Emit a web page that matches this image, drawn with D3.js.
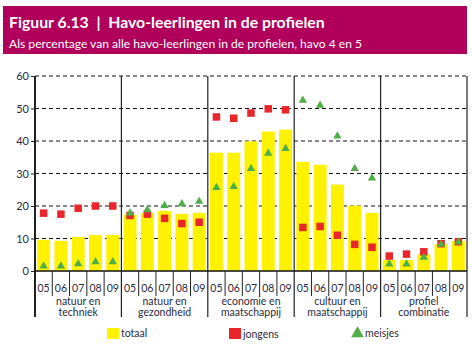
<!DOCTYPE html>
<html>
<head>
<meta charset="utf-8">
<script src="https://cdn.jsdelivr.net/npm/d3@7"></script>
<style>
  body { margin: 0; background: #fff; }
  svg { display: block; font-family: Lato, "Open Sans", sans-serif; }
</style>
</head>
<body>
<script>
// profielen and school years
var profielen = [["natuur en", "techniek"], ["natuur en", "gezondheid"], ["economie en", "maatschappij"], ["cultuur en", "maatschappij"], ["profiel", "combinatie"]];
var jaren = ["05", "06", "07", "08", "09"];
var yTicks = [0, 10, 20, 30, 40, 50, 60];

// percentages per profiel, one value per year
var totaal = [
    [9.6, 9.3, 10.5, 11.1, 11.1],
    [17.3, 17.9, 18.5, 17.6, 17.9],
    [36.4, 36.4, 39.9, 42.9, 43.5],
    [33.6, 32.7, 26.6, 20.1, 17.9],
    [3.4, 3.4, 5.2, 8.3, 9.2]
];
var jongens = [
    [17.8, 17.5, 19.3, 20.0, 20.0],
    [17.1, 17.5, 16.2, 14.6, 15.0],
    [47.4, 47.0, 48.6, 49.9, 49.6],
    [13.4, 13.7, 11.0, 8.2, 7.3],
    [4.6, 5.2, 5.9, 8.4, 9.0]
];
var meisjes = [
    [1.5, 1.5, 2.2, 2.8, 2.8],
    [17.8, 18.8, 20.1, 20.7, 21.4],
    [25.7, 26.0, 31.5, 36.2, 37.7],
    [52.5, 51.0, 41.5, 31.5, 28.6],
    [2.1, 2.1, 4.2, 8.2, 8.9]
];

window.onload = function () {
    var width = 472, height = 347;
    var svg = d3.select("body").append("svg")
        .attr("width", width)
        .attr("height", height);

    // header banner
    svg.append("rect")
        .attr("x", 3).attr("y", 6)
        .attr("width", 464).attr("height", 48)
        .attr("fill", "#b0005b");
    svg.append("text")
        .attr("x", 9).attr("y", 28)
        .attr("fill", "#fff")
        .attr("font-size", 15.8)
        .attr("font-weight", "bold")
        .attr("xml:space", "preserve")
        .text("Figuur 6.13  |  Havo-leerlingen in de profielen");
    svg.append("text")
        .attr("x", 9).attr("y", 48)
        .attr("fill", "#fff")
        .attr("font-size", 12.1)
        .text("Als percentage van alle havo-leerlingen in de profielen, havo 4 en 5");

    var left = 35, right = 467, top = 76, bottom = 271;

    // flatten into one row per bar
    var rows = [];
    profielen.forEach(function (p, g) {
        jaren.forEach(function (j, k) {
            rows.push({key: g + "-" + j, g: g, jaar: j, totaal: totaal[g][k], jongens: jongens[g][k], meisjes: meisjes[g][k]});
        });
    });

    var x = d3.scaleBand()
        .domain(rows.map(function (d) { return d.key; }))
        .range([left, right])
        .paddingInner(0.25)
        .paddingOuter(0.125);
    var xg = d3.scaleBand()
        .domain(d3.range(profielen.length))
        .range([left, right]);
    var y = d3.scaleLinear().domain([0, 60]).range([bottom, top]);
    var step = x.step();

    // dashed grid
    svg.append("g").selectAll("line")
        .data(yTicks.filter(function (d) { return d > 0; }))
        .enter().append("line")
        .attr("x1", left).attr("x2", right)
        .attr("y1", function (d) { return y(d); })
        .attr("y2", function (d) { return y(d); })
        .attr("stroke", "#111")
        .attr("stroke-width", 1)
        .attr("stroke-dasharray", "4,3");

    // bars
    svg.append("g").selectAll("rect")
        .data(rows)
        .enter().append("rect")
        .attr("x", function (d) { return x(d.key); })
        .attr("y", function (d) { return y(d.totaal); })
        .attr("width", x.bandwidth())
        .attr("height", function (d) { return y(0) - y(d.totaal); })
        .attr("fill", "#fff200");

    // group separators, full height down into the labels
    svg.append("g").selectAll("line")
        .data(d3.range(profielen.length + 1))
        .enter().append("line")
        .attr("x1", function (d) { return d < profielen.length ? xg(d) : right; })
        .attr("x2", function (d) { return d < profielen.length ? xg(d) : right; })
        .attr("y1", top).attr("y2", 317)
        .attr("stroke", "#222")
        .attr("stroke-width", function (d) { return d === 0 ? 2 : 1.2; });

    // year separators below the axis
    svg.append("g").selectAll("line")
        .data(rows.filter(function (d) { return d.jaar !== "05"; }))
        .enter().append("line")
        .attr("x1", function (d) { return x(d.key) - step * 0.125; })
        .attr("x2", function (d) { return x(d.key) - step * 0.125; })
        .attr("y1", bottom).attr("y2", 296)
        .attr("stroke", "#222")
        .attr("stroke-width", 1);

    // x axis line
    svg.append("line")
        .attr("x1", left).attr("x2", right)
        .attr("y1", bottom).attr("y2", bottom)
        .attr("stroke", "#111").attr("stroke-width", 1.5);

    // y axis labels and ticks
    var yAxis = svg.append("g")
        .attr("transform", "translate(" + left + ",0)")
        .call(d3.axisLeft(y).tickValues(yTicks).tickSize(4).tickPadding(2));
    yAxis.select(".domain").remove();
    yAxis.selectAll("line").attr("stroke", "#222");
    yAxis.selectAll("text")
        .attr("fill", "#2b2b40")
        .attr("font-size", 11)
        .attr("font-family", "Lato, sans-serif");

    // year labels
    svg.append("g").selectAll("text")
        .data(rows)
        .enter().append("text")
        .attr("x", function (d) { return x(d.key) + x.bandwidth() / 2; })
        .attr("y", 292)
        .attr("text-anchor", "middle")
        .attr("font-size", 10.5)
        .attr("fill", "#2b2b40")
        .text(function (d) { return d.jaar; });

    // profiel labels
    var gl = svg.append("g").selectAll("text")
        .data(profielen)
        .enter().append("text")
        .attr("text-anchor", "middle")
        .attr("font-size", 10.5)
        .attr("fill", "#2b2b40");
    gl.append("tspan")
        .attr("x", function (d, i) { return xg(i) + xg.bandwidth() / 2; })
        .attr("y", 305)
        .text(function (d) { return d[0]; });
    gl.append("tspan")
        .attr("x", function (d, i) { return xg(i) + xg.bandwidth() / 2; })
        .attr("y", 316)
        .text(function (d) { return d[1]; });

    // jongens: red squares
    var sq = 7.5;
    svg.append("g").selectAll("rect")
        .data(rows)
        .enter().append("rect")
        .attr("x", function (d) { return x(d.key) + x.bandwidth() / 2 - sq / 2; })
        .attr("y", function (d) { return y(d.jongens) - sq / 2; })
        .attr("width", sq).attr("height", sq)
        .attr("fill", "#e8262c");

    // meisjes: green triangles
    var tri = d3.symbol().type(d3.symbolTriangle).size(30);
    svg.append("g").selectAll("path")
        .data(rows)
        .enter().append("path")
        .attr("transform", function (d) {
            return "translate(" + (x(d.key) + x.bandwidth() / 2) + "," + y(d.meisjes) + ")";
        })
        .attr("d", tri)
        .attr("fill", "#4fae47");

    // legend
    var legend = svg.append("g");
    legend.append("rect").attr("x", 107).attr("y", 328).attr("width", 12).attr("height", 11).attr("fill", "#fff200");
    legend.append("text").attr("x", 121).attr("y", 337).attr("font-size", 10.5).attr("fill", "#2b2b40").text("totaal");
    legend.append("rect").attr("x", 229).attr("y", 328).attr("width", 12).attr("height", 11).attr("fill", "#e8262c");
    legend.append("text").attr("x", 243).attr("y", 338).attr("font-size", 10.5).attr("fill", "#2b2b40").text("jongens");
    legend.append("path").attr("transform", "translate(357.5,333.5)")
        .attr("d", d3.symbol().type(d3.symbolTriangle).size(70)).attr("fill", "#4fae47");
    legend.append("text").attr("x", 365).attr("y", 337).attr("font-size", 10.5).attr("fill", "#2b2b40").text("meisjes");
};
</script>
</body>
</html>
